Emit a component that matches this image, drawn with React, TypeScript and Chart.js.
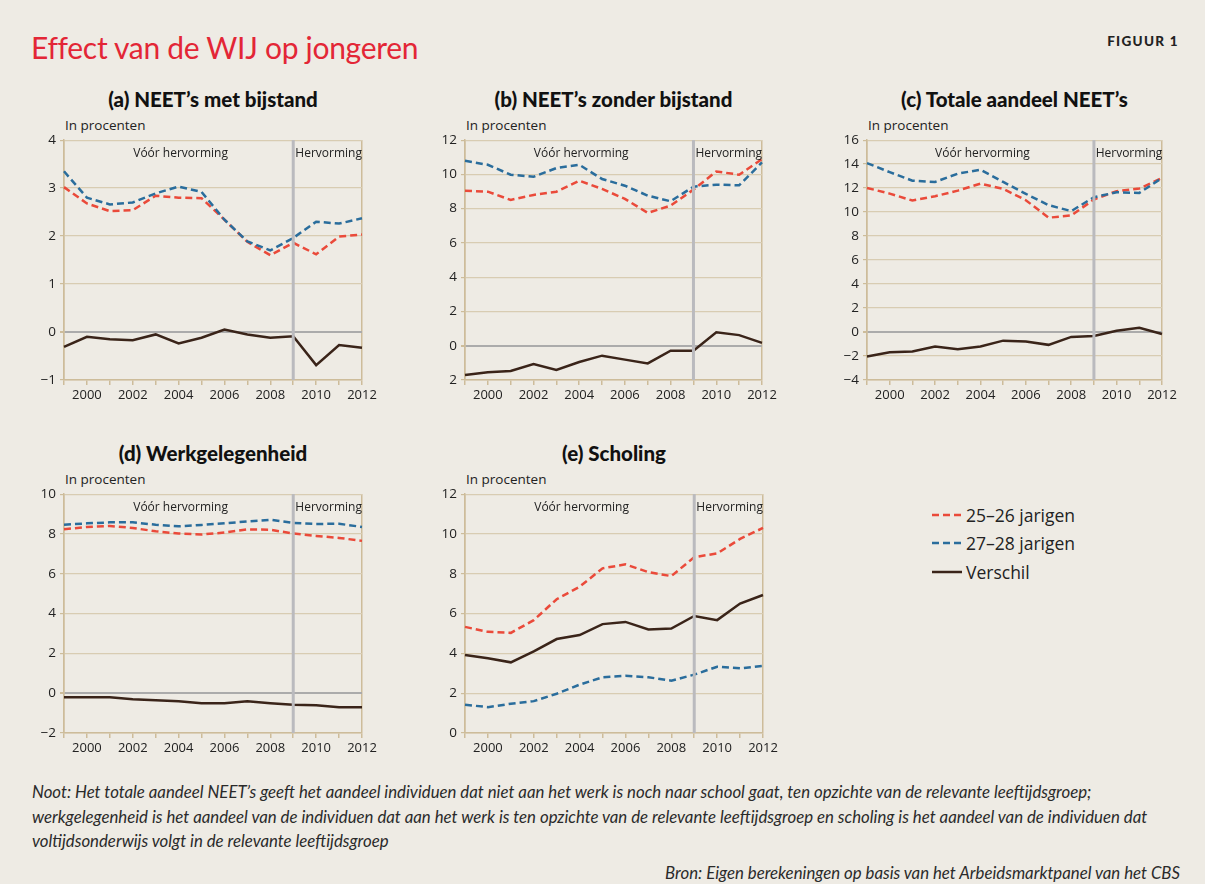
import React, { useEffect, useRef } from "react";
import { Chart, registerables } from "chart.js";

Chart.register(...registerables);

const years = ["1999", "2000", "2001", "2002", "2003", "2004", "2005", "2006", "2007", "2008", "2009", "2010", "2011", "2012"];

// (a) NEET's met bijstand
const aRed = [3.02, 2.68, 2.52, 2.54, 2.84, 2.8, 2.79, 2.34, 1.88, 1.6, 1.86, 1.62, 1.99, 2.03];
const aBlue = [3.35, 2.8, 2.66, 2.7, 2.89, 3.03, 2.92, 2.34, 1.89, 1.7, 1.96, 2.3, 2.26, 2.37];
const aDiff = [-0.31, -0.1, -0.15, -0.17, -0.05, -0.24, -0.12, 0.05, -0.05, -0.12, -0.09, -0.69, -0.27, -0.33];

// (b) NEET's zonder bijstand
const bRed = [9.05, 8.99, 8.51, 8.8, 8.99, 9.63, 9.15, 8.57, 7.75, 8.18, 9.11, 10.17, 9.98, 10.89];
const bBlue = [10.79, 10.56, 9.98, 9.86, 10.37, 10.56, 9.73, 9.34, 8.76, 8.43, 9.28, 9.4, 9.36, 10.7];
const bDiff = [-1.71, -1.55, -1.47, -1.07, -1.41, -0.95, -0.58, -0.81, -1.03, -0.29, -0.29, 0.78, 0.62, 0.17];

// (c) Totale aandeel NEET's
const cRed = [12.01, 11.54, 10.96, 11.32, 11.79, 12.37, 11.93, 10.99, 9.53, 9.72, 11.05, 11.74, 11.96, 12.84];
const cBlue = [14.08, 13.33, 12.62, 12.51, 13.2, 13.53, 12.51, 11.52, 10.58, 10.08, 11.24, 11.65, 11.6, 12.84];
const cDiff = [-2.04, -1.68, -1.63, -1.21, -1.43, -1.21, -0.72, -0.8, -1.07, -0.41, -0.33, 0.11, 0.36, -0.17];

// (d) Werkgelegenheid
const dRed = [8.23, 8.35, 8.4, 8.3, 8.13, 8.02, 7.97, 8.07, 8.23, 8.21, 8.02, 7.9, 7.8, 7.65];
const dBlue = [8.46, 8.53, 8.58, 8.58, 8.46, 8.38, 8.45, 8.53, 8.63, 8.71, 8.55, 8.5, 8.51, 8.35];
const dDiff = [-0.2, -0.21, -0.2, -0.3, -0.35, -0.4, -0.5, -0.5, -0.41, -0.5, -0.58, -0.61, -0.71, -0.71];

// (e) Scholing
const eRed = [5.33, 5.08, 5.03, 5.67, 6.72, 7.35, 8.27, 8.47, 8.08, 7.88, 8.83, 9.02, 9.75, 10.3];
const eBlue = [1.42, 1.3, 1.47, 1.6, 1.97, 2.43, 2.8, 2.87, 2.8, 2.63, 2.93, 3.33, 3.25, 3.37];
const eDiff = [3.92, 3.75, 3.55, 4.1, 4.72, 4.92, 5.47, 5.58, 5.2, 5.25, 5.88, 5.67, 6.5, 6.93];

const seriesNames = ["25\u201326 jarigen", "27\u201328 jarigen", "Verschil"];
const reformYear = "2009";
const periodLabels = ["V\u00f3\u00f3r hervorming", "Hervorming"];
const yUnit = "In procenten";

const BG = "#EEEBE4";
const RED = "#EA4A3A";
const BLUE = "#2A6D9C";
const BROWN = "#3A2419";
const GRID = "#D8CCB2";
const AXIS = "#CDBC9A";
const ZERO = "#ABABAB";
const TEXT = "#222222";
const FONT = "'Open Sans', 'DejaVu Sans', sans-serif";

type PanelProps = {
  title: string;
  left: number;
  top: number;
  right: number;
  bottom: number;
  min: number;
  max: number;
  step: number;
  red: number[];
  blue: number[];
  diff: number[];
  dropMinus?: boolean;
};

const Y_W = 45;
const X_H = 30;
const PAD_T = 10;
const PAD_R = 22;

function Panel(p: PanelProps) {
  const ref = useRef<HTMLCanvasElement | null>(null);
  const w = p.right - p.left + Y_W + PAD_R;
  const h = p.bottom - p.top + PAD_T + X_H;

  useEffect(() => {
    if (!ref.current) return;
    const reformPlugin = {
      id: "reform",
      afterDatasetsDraw(chart: any) {
        const { ctx, chartArea, scales } = chart;
        const xr = scales.x.getPixelForValue(years.indexOf(reformYear));
        ctx.save();
        ctx.strokeStyle = "#BABABE";
        ctx.lineWidth = 3;
        ctx.beginPath();
        ctx.moveTo(xr, chartArea.top);
        ctx.lineTo(xr, chartArea.bottom);
        ctx.stroke();
        ctx.fillStyle = TEXT;
        ctx.font = `12px ${FONT}`;
        ctx.textAlign = "center";
        ctx.textBaseline = "middle";
        ctx.fillText(periodLabels[0], (chartArea.left + xr) / 2 + 2, chartArea.top + 13);
        ctx.fillText(periodLabels[1], (xr + chartArea.right) / 2 + 1, chartArea.top + 13);
        ctx.restore();
      },
    };
    const mk = (label: string, data: number[], color: string, dash: number[]) => ({
      label,
      data,
      borderColor: color,
      backgroundColor: color,
      borderWidth: 2.5,
      borderDash: dash,
      pointRadius: 0,
      tension: 0,
      fill: false,
    });
    const chart = new Chart(ref.current, {
      type: "line",
      data: {
        labels: years,
        datasets: [
          mk(seriesNames[2], p.diff, BROWN, []),
          mk(seriesNames[1], p.blue, BLUE, [7, 4]),
          mk(seriesNames[0], p.red, RED, [7, 4]),
        ],
      },
      plugins: [reformPlugin],
      options: {
        animation: false,
        responsive: false,
        maintainAspectRatio: false,
        layout: { padding: { top: PAD_T, right: PAD_R, left: 0, bottom: 0 } },
        plugins: { legend: { display: false }, tooltip: { enabled: false } },
        scales: {
          x: {
            type: "category",
            offset: false,
            afterFit: (s: any) => {
              s.height = X_H;
            },
            border: { display: true, color: AXIS, width: 1.5 },
            grid: {
              drawOnChartArea: true,
              drawTicks: true,
              tickLength: 5,
              tickColor: AXIS,
              color: (c: any) => (c.index === 0 || c.index === years.length - 1 ? AXIS : "rgba(0,0,0,0)"),
              lineWidth: 1.5,
            },
            ticks: {
              autoSkip: false,
              maxRotation: 0,
              padding: 2,
              color: TEXT,
              font: { family: FONT, size: 13 },
              callback: (_v: any, i: number) => (Number(years[i]) % 2 === 0 ? years[i] : ""),
            },
          },
          y: {
            min: p.min,
            max: p.max,
            afterFit: (s: any) => {
              s.width = Y_W;
            },
            border: { display: true, color: AXIS, width: 1.5 },
            grid: {
              color: (c: any) => (c.tick && c.tick.value === 0 && p.min < 0 ? ZERO : GRID),
              lineWidth: (c: any) => (c.tick && c.tick.value === 0 && p.min < 0 ? 2 : 1.2),
              tickLength: 4,
              tickColor: AXIS,
            },
            ticks: {
              stepSize: p.step,
              padding: 4,
              color: TEXT,
              font: { family: FONT, size: 13.5 },
              callback: (v: any) => {
                const n = Number(v);
                if (n < 0) return p.dropMinus ? String(-n) : "\u2212" + String(-n);
                return String(n);
              },
            },
          },
        },
      } as any,
    });
    return () => chart.destroy();
  }, []);

  return (
    <>
      <div
        style={{
          position: "absolute",
          left: p.left - 40,
          width: p.right - p.left + 80,
          top: p.top - 53,
          height: 28,
          lineHeight: "28px",
          textAlign: "center",
          fontFamily: "Lato, 'Open Sans', sans-serif",
          fontWeight: 900,
          fontSize: 20.5,
          color: "#111",
        }}
      >
        {p.title}
      </div>
      <div
        style={{
          position: "absolute",
          left: p.left + 1,
          top: p.top - 22,
          height: 18,
          lineHeight: "18px",
          fontFamily: FONT,
          fontSize: 13.5,
          color: TEXT,
        }}
      >
        {yUnit}
      </div>
      <div style={{ position: "absolute", left: p.left - Y_W, top: p.top - PAD_T, width: w, height: h }}>
        <canvas ref={ref} width={w} height={h} style={{ width: w, height: h, display: "block" }} />
      </div>
    </>
  );
}

function LegendRow({ y, color, dash, label }: { y: number; color: string; dash: string; label: string }) {
  return (
    <div style={{ position: "absolute", left: 931, top: y - 12, height: 24, display: "flex", alignItems: "center" }}>
      <svg width={32} height={6} style={{ display: "block" }}>
        <line x1={1} y1={3} x2={31} y2={3} stroke={color} strokeWidth={2.5} strokeDasharray={dash} />
      </svg>
      <span style={{ marginLeft: 3, fontFamily: FONT, fontSize: 17.5, color: TEXT, lineHeight: "24px" }}>{label}</span>
    </div>
  );
}

export default function App() {
  return (
    <div style={{ position: "absolute", left: 0, top: 0, width: 1205, height: 884, background: BG, overflow: "hidden" }}>
      <div
        style={{
          position: "absolute",
          left: 31,
          top: 27,
          fontFamily: "Lato, sans-serif",
          fontWeight: 400,
          fontSize: 30,
          color: "#E32636",
          lineHeight: "40px",
          letterSpacing: -0.3,
        }}
      >
        Effect van de WIJ op jongeren
      </div>
      <div
        style={{
          position: "absolute",
          right: 26,
          top: 33,
          fontFamily: "Lato, sans-serif",
          fontWeight: 900,
          fontSize: 13.5,
          color: "#222",
          letterSpacing: 1.3,
        }}
      >
        FIGUUR 1
      </div>

      <Panel title={"(a) NEET\u2019s met bijstand"} left={64} top={138} right={362} bottom={380} min={-1} max={4} step={1} red={aRed} blue={aBlue} diff={aDiff} />
      <Panel title={"(b) NEET\u2019s zonder bijstand"} left={465} top={138} right={762} bottom={380} min={-2} max={12} step={2} red={bRed} blue={bBlue} diff={bDiff} dropMinus />
      <Panel title={"(c) Totale aandeel NEET\u2019s"} left={867} top={138} right={1162} bottom={380} min={-4} max={16} step={2} red={cRed} blue={cBlue} diff={cDiff} />
      <Panel title="(d) Werkgelegenheid" left={64} top={492} right={362} bottom={733} min={-2} max={10} step={2} red={dRed} blue={dBlue} diff={dDiff} />
      <Panel title="(e) Scholing" left={465} top={492} right={763} bottom={733} min={0} max={12} step={2} red={eRed} blue={eBlue} diff={eDiff} />

      <LegendRow y={515} color={RED} dash="7 4" label={seriesNames[0]} />
      <LegendRow y={543} color={BLUE} dash="7 4" label={seriesNames[1]} />
      <LegendRow y={572} color={BROWN} dash="" label={seriesNames[2]} />

      <div
        style={{
          position: "absolute",
          left: 32,
          top: 780,
          width: 1165,
          fontFamily: "Lato, sans-serif",
          fontStyle: "italic",
          fontSize: 16.8,
          lineHeight: "24.5px",
          color: "#2a2a2a",
          whiteSpace: "nowrap",
        }}
      >
        Noot: Het totale aandeel NEET’s geeft het aandeel individuen dat niet aan het werk is noch naar school gaat, ten opzichte van de relevante leeftijdsgroep;
        <br />
        werkgelegenheid is het aandeel van de individuen dat aan het werk is ten opzichte van de relevante leeftijdsgroep en scholing is het aandeel van de individuen dat
        <br />
        voltijdsonderwijs volgt in de relevante leeftijdsgroep
      </div>
      <div
        style={{
          position: "absolute",
          right: 25,
          top: 861,
          fontFamily: "Lato, sans-serif",
          fontStyle: "italic",
          fontSize: 16.8,
          lineHeight: "24px",
          color: "#2a2a2a",
        }}
      >
        Bron: Eigen berekeningen op basis van het Arbeidsmarktpanel van het CBS
      </div>
    </div>
  );
}
